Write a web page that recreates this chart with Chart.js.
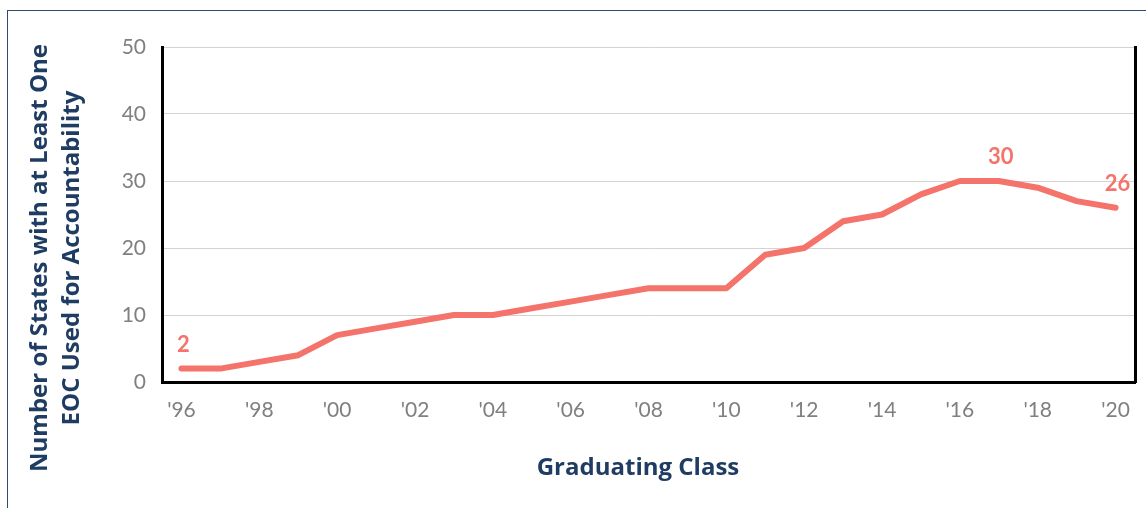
<!DOCTYPE html>
<html>
<head>
<meta charset="utf-8">
<script src="https://cdn.jsdelivr.net/npm/chart.js@4/dist/chart.umd.min.js"></script>
<style>
  html, body { margin: 0; padding: 0; background: #fff; overflow: hidden; }
  #wrap { position: relative; width: 1146px; height: 508px; }
  #frame { position: absolute; left: 7px; top: 10px; width: 1200px; height: 600px; border: 1px solid #2e4a6e; }
  canvas { position: absolute; left: 0; top: 0; }
</style>
</head>
<body>
<div id="wrap">
  <div id="frame"></div>
  <canvas id="chart" width="1146" height="508"></canvas>
</div>
<script>
// EOC accountability states by graduating class

const years = ["'96", "'97", "'98", "'99", "'00", "'01", "'02", "'03", "'04", "'05", "'06", "'07", "'08",
  "'09", "'10", "'11", "'12", "'13", "'14", "'15", "'16", "'17", "'18", "'19", "'20"];
const states = [2, 2, 3, 4, 7, 8, 9, 10, 10, 11, 12, 13, 14, 14, 14, 19, 20, 24, 25, 28, 30, 30, 29, 27, 26];
const labelled = [0, 21, 24];
const yTicks = [0, 10, 20, 30, 40, 50];

const COLORS = {
  line: '#f4736a',
  navy: '#1f3d63',
  tick: '#808080',
  grid: '#d3d3d3',
  axis: '#000000',
};

// point labels + axis titles
const extras = {
  id: 'extras',
  afterDatasetsDraw(chart) {
    const ctx = chart.ctx;
    const meta = chart.getDatasetMeta(0);
    ctx.save();
    ctx.fillStyle = COLORS.line;
    ctx.font = 'bold 22px Lato';
    ctx.textAlign = 'center';
    ctx.textBaseline = 'middle';
    labelled.forEach(i => {
      const p = meta.data[i];
      ctx.fillText(String(states[i]), p.x + 2, p.y - 24);
    });

    ctx.fillStyle = COLORS.navy;
    ctx.font = 'bold 24px "Open Sans"';
    ctx.fillText('Graduating Class', 638, 468);

    ctx.translate(0, 258);
    ctx.rotate(-Math.PI / 2);
    ctx.fillText('Number of States with at Least One', 0, 40);
    ctx.fillText('EOC Used for Accountability', 0, 72);
    ctx.restore();
  },
};

new Chart(document.getElementById('chart'), {
  type: 'line',
  data: {
    labels: years,
    datasets: [{
      data: states,
      borderColor: COLORS.line,
      borderWidth: 6,
      pointRadius: 0,
      tension: 0,
      borderJoinStyle: 'round',
      borderCapStyle: 'round',
    }],
  },
  options: {
    responsive: false,
    animation: false,
    layout: { padding: { top: 47, right: 6, left: 100, bottom: 0 } },
    plugins: { legend: { display: false }, tooltip: { enabled: false } },
    scales: {
      x: {
        type: 'category',
        offset: true,
        grid: { display: false, drawTicks: false },
        border: { color: COLORS.axis, width: 3 },
        ticks: {
          color: COLORS.tick,
          font: { family: 'Lato', size: 21 },
          padding: 16,
          autoSkip: false,
          maxRotation: 0,
          callback: (v, i) => (i % 2 === 0 ? years[i] : ''),
        },
        afterFit: s => { s.height = 126; },
      },
      y: {
        min: 0,
        max: 50,
        afterBuildTicks: s => { s.ticks = yTicks.map(v => ({ value: v })); },
        grid: { color: COLORS.grid, lineWidth: 1, drawTicks: false },
        border: { color: COLORS.axis, width: 3 },
        ticks: {
          color: COLORS.tick,
          font: { family: 'Lato', size: 21 },
          padding: 16,
        },
        afterFit: s => { s.width = 62; },
      },
      yRight: {
        position: 'right',
        min: 0,
        max: 50,
        grid: { display: false, drawTicks: false },
        border: { color: COLORS.axis, width: 3 },
        ticks: { display: false },
        afterFit: s => { s.width = 0; },
      },
    },
  },
  plugins: [extras],
});
</script>
</body>
</html>
